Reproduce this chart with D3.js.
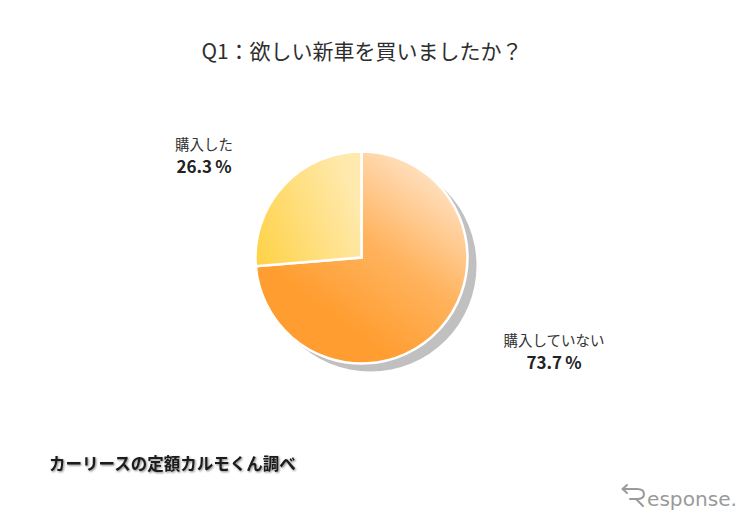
<!DOCTYPE html>
<html><head><meta charset="utf-8">
<script src="https://cdn.jsdelivr.net/npm/d3@7/dist/d3.min.js"></script>
<style>
body{margin:0;background:#fff;}
svg{display:block;font-family:"Noto Sans CJK JP","Noto Sans",sans-serif;}
</style></head>
<body>
<svg id="chart" width="750" height="520"></svg>
<script>
const title = "Q1：欲しい新車を買いましたか？";
const categories = ["購入していない", "購入した"];
const values = [73.7, 26.3];
const valueLabels = ["73.7", "26.3"];
const source = "カーリースの定額カルモくん調べ";

const svg = d3.select("#chart");
const cx = 361.5, cy = 257.5, r = 106;

const defs = svg.append("defs");
const g1 = defs.append("linearGradient").attr("id","gBig").attr("gradientUnits","userSpaceOnUse")
  .attr("x1", 75).attr("y1", -95).attr("x2", -35).attr("y2", 55);
g1.append("stop").attr("offset","0").attr("stop-color","#ffe6cc");
g1.append("stop").attr("offset","0.55").attr("stop-color","#ffb35e");
g1.append("stop").attr("offset","1").attr("stop-color","#ff9d30");
const g2 = defs.append("linearGradient").attr("id","gSmall").attr("gradientUnits","userSpaceOnUse")
  .attr("x1", -r).attr("y1", 0).attr("x2", 0).attr("y2", -40);
g2.append("stop").attr("offset","0").attr("stop-color","#ffd247");
g2.append("stop").attr("offset","1").attr("stop-color","#ffe9ac");
const tblur = defs.append("filter").attr("id","tshadow").attr("x","-5%").attr("y","-30%").attr("width","110%").attr("height","160%");
tblur.append("feGaussianBlur").attr("in","SourceAlpha").attr("stdDeviation",0.8).attr("result","b");
tblur.append("feOffset").attr("in","b").attr("dx",0.6).attr("dy",0.6).attr("result","o");
tblur.append("feComponentTransfer").attr("in","o").attr("result","o2").append("feFuncA").attr("type","linear").attr("slope",0.5);
const m = tblur.append("feMerge"); m.append("feMergeNode").attr("in","o2"); m.append("feMergeNode").attr("in","SourceGraphic");

// title
svg.append("text").attr("x", 362).attr("y", 59).attr("text-anchor","middle")
  .attr("font-size", 21).attr("fill","#2e2e2e").text(title);

// shadow
svg.append("circle").attr("cx", cx+9).attr("cy", cy+8).attr("r", r).attr("fill","#c0c0c0");

// pie
const pie = d3.pie().sort(null).value(d => d).startAngle(0).endAngle(2*Math.PI);
const arcs = pie(values);
const arc = d3.arc().innerRadius(0).outerRadius(r);
const pg = svg.append("g").attr("transform",`translate(${cx},${cy})`);
const fills = ["url(#gBig)","url(#gSmall)"];
pg.selectAll("path").data(arcs).join("path")
  .attr("d", arc).attr("fill",(d,i)=>fills[i])
  .attr("stroke","#fff").attr("stroke-width",2.5).attr("stroke-linejoin","miter");

// labels
const labelPos = [{x:554, y1:346, y2:369},{x:204, y1:150, y2:173}];
labelPos.forEach((p,i)=>{
  svg.append("text").attr("x",p.x).attr("y",p.y1).attr("text-anchor","middle")
    .attr("font-size",14.5).attr("fill","#333").text(categories[i]);
  const t = svg.append("text").attr("x",p.x).attr("y",p.y2).attr("text-anchor","middle")
    .attr("font-size",17).attr("font-weight","bold").attr("fill","#222");
  t.append("tspan").text(valueLabels[i]);
  t.append("tspan").attr("dx",3).text("%");
});

// source
svg.append("text").attr("x",49).attr("y",470).attr("font-size",16.5).attr("font-weight","bold")
  .attr("fill","#1a1a1a").attr("filter","url(#tshadow)").text(source);

// logo
const lg = svg.append("g").attr("fill","none").attr("stroke","#9a9a9a").attr("stroke-width",2).attr("stroke-linecap","round").attr("stroke-linejoin","round");
lg.append("path").attr("d","M627 485 L622.5 489 L627 493");
lg.append("path").attr("d","M623 489 L637 489 Q644 489 644 494 Q644 499 637 499 L630 499 M636 499 L643 506");
svg.append("text").attr("x",647).attr("y",506).attr("font-family","'DejaVu Sans', sans-serif")
  .attr("font-size",19).attr("fill","#9a9a9a").attr("textLength",90).attr("lengthAdjust","spacingAndGlyphs").text("esponse.");
</script>
</body></html>
